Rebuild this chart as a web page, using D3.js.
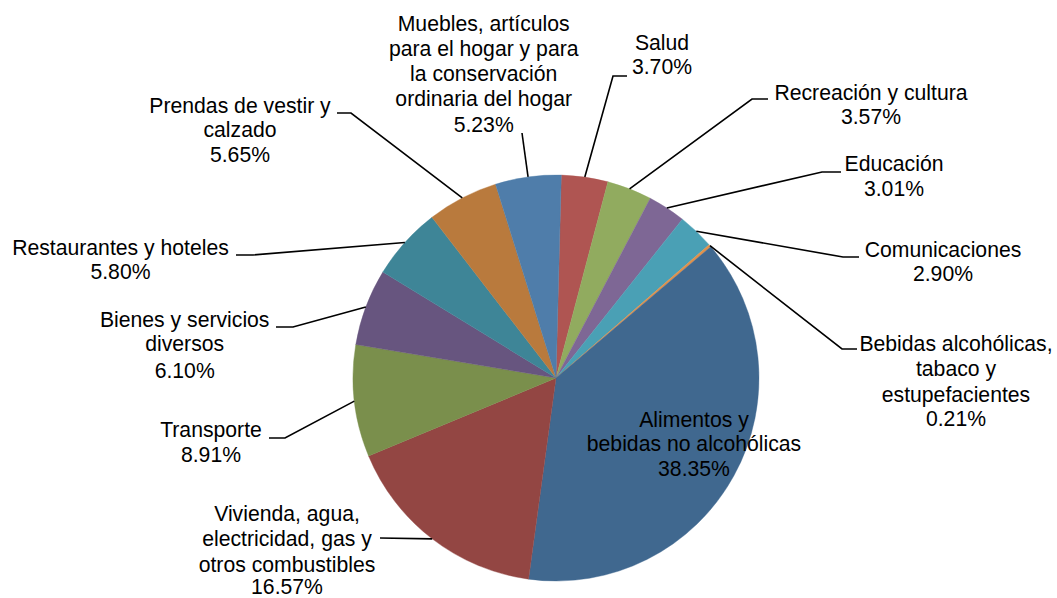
<!DOCTYPE html>
<html>
<head>
<meta charset="utf-8">
<script src="https://cdn.jsdelivr.net/npm/d3@7"></script>
<style>
  html, body { margin: 0; padding: 0; background: #ffffff; }
  svg { display: block; }
  text { font-family: "Liberation Sans", Arial, Helvetica, sans-serif; font-size: 21.2px; fill: #000; }
</style>
</head>
<body>
<svg id="chart" width="1057" height="598"></svg>
<script>
// ---- data ----
const categories = [
  "Salud",
  "Recreación y cultura",
  "Educación",
  "Comunicaciones",
  "Bebidas alcohólicas, tabaco y estupefacientes",
  "Alimentos y bebidas no alcohólicas",
  "Vivienda, agua, electricidad, gas y otros combustibles",
  "Transporte",
  "Bienes y servicios diversos",
  "Restaurantes y hoteles",
  "Prendas de vestir y calzado",
  "Muebles, artículos para el hogar y para la conservación ordinaria del hogar"
];
const values = [3.70, 3.57, 3.01, 2.90, 0.21, 38.35, 16.57, 8.91, 6.10, 5.80, 5.65, 5.23];
const percentLabels = ["3.70%", "3.57%", "3.01%", "2.90%", "0.21%", "38.35%", "16.57%", "8.91%", "6.10%", "5.80%", "5.65%", "5.23%"];
const labelLines = [
  ["Salud"],
  ["Recreación y cultura"],
  ["Educación"],
  ["Comunicaciones"],
  ["Bebidas alcohólicas,", "tabaco y", "estupefacientes"],
  ["Alimentos y", "bebidas no alcohólicas"],
  ["Vivienda, agua,", "electricidad, gas y", "otros combustibles"],
  ["Transporte"],
  ["Bienes y servicios", "diversos"],
  ["Restaurantes y hoteles"],
  ["Prendas de vestir y", "calzado"],
  ["Muebles, artículos", "para el hogar y para", "la conservación", "ordinaria del hogar"]
];

// ---- style / layout ----
const colors = ["#AF5552", "#91AB5F", "#7E6795", "#4AA0B5", "#E0914B", "#40688F",
                "#934643", "#7A8F4C", "#67557F", "#3E8597", "#B97A3D", "#4F7DAA"];
const cx = 556, cy = 378, R = 203;
const rotation = 1.5 * Math.PI / 180;

// label block: x centre, centres of each line (including percent line), leader points (label end first)
const layout = [
  { x: 662, ys: [42.7, 66.7], leader: [[627, 76], [613, 76]] },
  { x: 871, ys: [92.7, 116.7], leader: [[768, 99], [752, 99]] },
  { x: 894, ys: [164, 189], leader: [[841, 172], [822, 172]] },
  { x: 943, ys: [250, 274], leader: [[859, 257], [843, 257]] },
  { x: 956, ys: [343.3, 368.3, 394.3, 418.3], leader: [[857, 349], [842, 349]] },
  { x: 694, ys: [419.3, 443.3, 468.3], leader: null },
  { x: 287, ys: [514, 539, 564.5, 586.5], leader: [[380, 538]] },
  { x: 211, ys: [430, 455], leader: [[269, 438], [285, 438]] },
  { x: 184.7, ys: [319.3, 344, 370.7], leader: [[276, 327], [293, 327]] },
  { x: 120.5, ys: [247.7, 271.7], leader: [[236, 255], [253, 255]] },
  { x: 240, ys: [106, 130, 155], leader: [[337, 113], [351, 113]] },
  { x: 483.7, ys: [23.3, 48.3, 74, 99, 125], leader: [[522, 133]] }
];

const svg = d3.select("#chart");
const rows = categories.map((c, i) => ({ name: c, value: values[i], pct: percentLabels[i], lines: labelLines[i], i }));

const pie = d3.pie().value(d => d.value).sort(null)
  .startAngle(rotation).endAngle(rotation + 2 * Math.PI);
const arcs = pie(rows);
const arc = d3.arc().innerRadius(0).outerRadius(R);

const g = svg.append("g").attr("transform", `translate(${cx},${cy})`);
g.selectAll("path.slice").data(arcs).enter().append("path")
  .attr("class", "slice")
  .attr("d", arc)
  .attr("fill", d => colors[d.data.i])
  .attr("stroke", d => colors[d.data.i])
  .attr("stroke-width", 0.4);

// leader lines
const line = d3.line();
arcs.forEach(a => {
  const L = layout[a.data.i];
  if (!L.leader) return;
  const mid = (a.startAngle + a.endAngle) / 2;
  const anchor = [cx + R * Math.sin(mid), cy - R * Math.cos(mid)];
  const pts = L.leader.concat([anchor]);
  svg.append("path")
    .attr("d", line(pts))
    .attr("fill", "none")
    .attr("stroke", "#000")
    .attr("stroke-width", 1.6);
});

// labels
rows.forEach(r => {
  const L = layout[r.i];
  const lines = r.lines.concat([r.pct]);
  const t = svg.append("text").attr("text-anchor", "middle");
  lines.forEach((s, k) => {
    t.append("tspan").attr("x", L.x).attr("y", L.ys[k] + 7.4).text(s);
  });
});
</script>
</body>
</html>
